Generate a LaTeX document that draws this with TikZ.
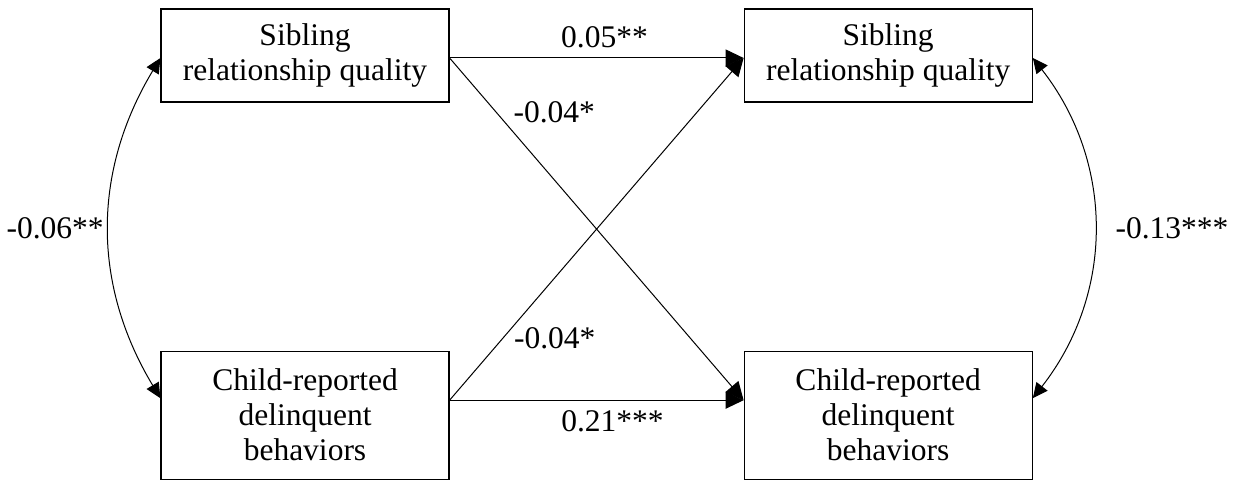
\documentclass[tikz,border=0pt]{standalone}
\usepackage{fontspec}
\setmainfont{Liberation Serif}
\usepackage{tikz}
\usetikzlibrary{arrows.meta, positioning, calc}

\begin{document}
\begin{tikzpicture}[x=0.5pt, y=0.5pt,
  varbox/.style={draw, line width=0.6pt, minimum width=144pt, align=center, inner sep=0pt, font=\fontsize{15.75}{17.5}\selectfont},
  effect/.style={-{Triangle[length=9pt,width=8.5pt]}, line width=0.5pt},
  covar/.style={{Triangle[length=7.5pt,width=7pt]}-{Triangle[length=7.5pt,width=7pt]}, line width=0.5pt},
  coef/.style={inner sep=0pt, font=\fontsize{15.75}{17.5}\selectfont}]
  \useasboundingbox (0,0) rectangle (1234,480);

  % time 1 and time 2 variables
  \node[varbox, minimum height=46.5pt] (sq1) at (305,424.5) {Sibling\\relationship quality};
  \node[varbox, minimum height=46.5pt, right=147pt of sq1] (sq2) {Sibling\\relationship quality};
  \node[varbox, minimum height=64pt, below=124pt of sq1] (cd1) {Child-reported\\delinquent\\behaviors};
  \node[varbox, minimum height=64pt, below=124pt of sq2] (cd2) {Child-reported\\delinquent\\behaviors};

  % stability and cross-lagged paths
  \draw[effect] ([yshift=-1.25pt]sq1.east) -- node[coef, above=5pt, pos=0.527] {0.05**} ([yshift=-1.25pt]sq2.west);
  \draw[effect] ([yshift=-1.25pt]sq1.east) -- node[coef, pos=0.158, anchor=west, xshift=8.5pt] {-0.04*} ([yshift=7.5pt]cd2.west);
  \draw[effect] ([yshift=7.5pt]cd1.east) -- node[coef, pos=0.182, anchor=west, xshift=5.25pt] {-0.04*} ([yshift=-1.25pt]sq2.west);
  \draw[effect] ([yshift=7.5pt]cd1.east) -- node[coef, below=5pt, pos=0.554] {0.21***} ([yshift=7.5pt]cd2.west);

  % within-time covariances
  \draw[covar] ([yshift=-1.25pt]sq1.west) to[bend right=31] node[coef, anchor=east, xshift=-2.5pt] {-0.06**} ([yshift=8.5pt]cd1.west);
  \draw[covar] ([yshift=-1.25pt]sq2.east) to[bend left=38] node[coef, anchor=west, xshift=10.5pt] {-0.13***} ([yshift=8.5pt]cd2.east);
\end{tikzpicture}
\end{document}
